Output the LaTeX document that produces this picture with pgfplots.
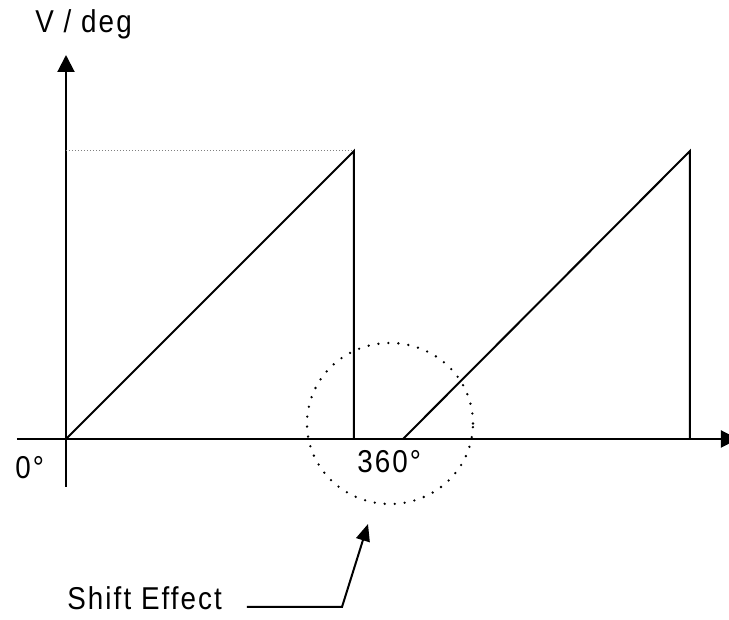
\documentclass[border=0pt]{standalone}
\usepackage{fontspec}
\setmainfont[FakeStretch=0.88, LetterSpace=6.5]{Liberation Sans}
\usepackage{pgfplots}
\pgfplotsset{compat=1.18}
\usetikzlibrary{arrows.meta}
\begin{document}
\begin{tikzpicture}[font=\fontsize{15.8pt}{18pt}\selectfont]
\begin{axis}[
  scale only axis, width=364.5pt, height=310pt,
  xmin=-82.5, xmax=828.75, ymin=-226.25, ymax=548.75,
  hide axis, clip=false, anchor=south west, at={(0,0)}]
% axes
\draw[line width=1pt, -{Triangle[length=8.5pt,width=8.5pt]}] (axis cs:-61.25,0) -- (axis cs:840,0);
\draw[line width=1pt, -{Triangle[length=8.5pt,width=8.5pt]}] (axis cs:0,-60) -- (axis cs:0,480);
% dotted reference
\addplot[gray, line width=0.5pt, dash pattern=on 0.6pt off 0.9pt] coordinates {(0,360) (360,360)};
% sawtooth
\addplot[black, line width=1pt] coordinates {(0,0) (360,360) (360,0)};
\addplot[black, line width=1pt] coordinates {(421.25,0) (780,360) (780,0)};
% circle
\draw[black, line width=1.3pt, line cap=round, dash pattern=on 0pt off 5pt] (axis cs:405,19.4) ellipse [x radius=41.5pt, y radius=40.25pt];
% labels
\node[anchor=base west, inner sep=0pt] at (axis cs:-38.75,507.5) {V / deg};
\node[anchor=base west, inner sep=0pt] at (axis cs:-63.75,-50) {0°};
\node[anchor=base west, inner sep=0pt] at (axis cs:363.75,-42.5) {360°};
\node[anchor=base west, inner sep=0pt] at (axis cs:1.25,-213.75) {Shift Effect};
% leader
\draw[line width=1pt, -{Triangle[length=8.5pt,width=7pt]}] (axis cs:226.25,-210) -- (axis cs:345,-210) -- (axis cs:377.5,-106.25);
\end{axis}
\pgfresetboundingbox
\path (0,0) rectangle (364.5pt,310pt);
\end{tikzpicture}
\end{document}
